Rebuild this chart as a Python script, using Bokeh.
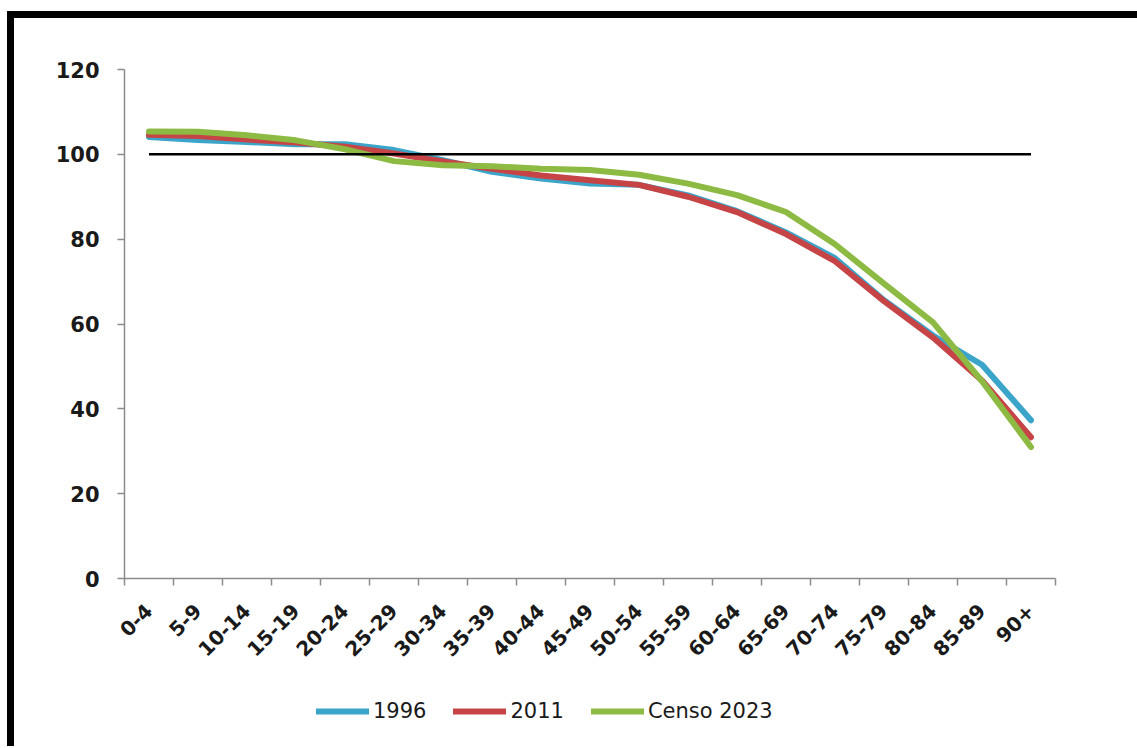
import math
from bokeh.plotting import figure
from bokeh.layouts import column
from bokeh.models import Range1d, FixedTicker, Legend, LegendItem
from bokeh.embed import file_html
from bokeh.resources import INLINE

categories = ["0-4", "5-9", "10-14", "15-19", "20-24", "25-29", "30-34", "35-39",
              "40-44", "45-49", "50-54", "55-59", "60-64", "65-69", "70-74",
              "75-79", "80-84", "85-89", "90+"]
y1996 = [104.1, 103.4, 102.9, 102.4, 102.4, 101.0, 98.6, 95.9, 94.3, 93.1,
         92.8, 90.3, 86.6, 81.6, 75.5, 65.6, 57.3, 50.4, 37.3]
y2011 = [104.6, 104.3, 103.5, 102.8, 101.8, 100.2, 98.3, 96.6, 95.0, 93.9,
         92.8, 90.0, 86.4, 81.2, 74.8, 65.4, 56.8, 46.7, 33.3]
ycenso = [105.4, 105.3, 104.5, 103.3, 101.2, 98.4, 97.4, 97.2, 96.6, 96.3,
          95.2, 93.1, 90.4, 86.4, 78.8, 69.5, 60.4, 46.5, 31.0]
reference = [100] * len(categories)
series_names = ["1996", "2011", "Censo 2023"]
series_colors = ["#3BA4C9", "#C64446", "#8DBA42"]
y_ticks = [0, 20, 40, 60, 80, 100, 120]

n = len(categories)
xs = [i + 0.5 for i in range(n)]
series = [y1996, y2011, ycenso]

FONT = "DejaVu Sans"

# ---- main chart ----
p = figure(width=1123, height=680, output_backend="svg", toolbar_location=None,
           x_range=Range1d(0, n), y_range=Range1d(0, 120),
           min_border_left=110, min_border_top=51, min_border_right=82,
           min_border_bottom=120)
p.outline_line_color = None
p.xgrid.visible = False
p.ygrid.visible = False

for ys, col in zip(series, series_colors):
    p.line(xs, ys, line_color=col, line_width=6, line_join="round", line_cap="round")
p.line(xs, reference, line_color="black", line_width=2.5)

xa = p.xaxis[0]
xa.ticker = FixedTicker(ticks=xs, minor_ticks=list(range(n + 1)))
xa.major_label_overrides = {x: c for x, c in zip(xs, categories)}
xa.major_label_orientation = math.pi / 4
xa.major_tick_out = 0
xa.major_tick_in = 0
xa.minor_tick_out = 7
xa.minor_tick_in = 0
xa.minor_tick_line_color = "#8c8c8c"
xa.minor_tick_line_width = 1.5
xa.axis_line_color = "#8c8c8c"
xa.axis_line_width = 1.5
xa.major_label_text_font = FONT
xa.major_label_text_font_style = "bold"
xa.major_label_text_font_size = "20px"
xa.major_label_text_color = "#1a1a1a"
xa.major_label_standoff = 22

ya = p.yaxis[0]
ya.ticker = FixedTicker(ticks=y_ticks)
ya.major_tick_out = 7
ya.major_tick_in = 0
ya.minor_tick_out = 0
ya.minor_tick_in = 0
ya.major_tick_line_color = "#8c8c8c"
ya.major_tick_line_width = 1.5
ya.axis_line_color = "#8c8c8c"
ya.axis_line_width = 1.5
ya.major_label_text_font = FONT
ya.major_label_text_font_style = "bold"
ya.major_label_text_font_size = "21px"
ya.major_label_text_color = "#1a1a1a"
ya.major_label_standoff = 18

# ---- legend strip (its lines lie outside its visible range; only the key shows) ----
pl = figure(width=1123, height=48, output_backend="svg", toolbar_location=None,
            x_axis_location=None, y_axis_location=None,
            x_range=Range1d(0, n), y_range=Range1d(1000, 1001),
            min_border_left=0, min_border_right=0, min_border_top=0, min_border_bottom=0)
pl.outline_line_color = None
pl.xgrid.visible = False
pl.ygrid.visible = False
items = []
for name, ys, col in zip(series_names, series, series_colors):
    r = pl.line(xs, ys, line_color=col, line_width=6, line_cap="round")
    items.append(LegendItem(label=name, renderers=[r]))
legend = Legend(items=items, location=(192, 23), orientation="horizontal")
legend.padding = 0
legend.margin = 0
legend.spacing = 27
legend.glyph_width = 53
legend.glyph_height = 24
legend.label_standoff = 4
legend.label_text_font = FONT
legend.label_text_font_size = "21px"
legend.label_text_color = "#1a1a1a"
legend.border_line_color = None
legend.background_fill_alpha = 0
pl.add_layout(legend, "center")

layout = column(p, pl, spacing=0)
layout.styles = {"border-left": "7px solid black", "border-top": "7px solid black",
                 "margin-left": "7px", "margin-top": "11px"}

open("out.html", "w").write(file_html(layout, INLINE))
